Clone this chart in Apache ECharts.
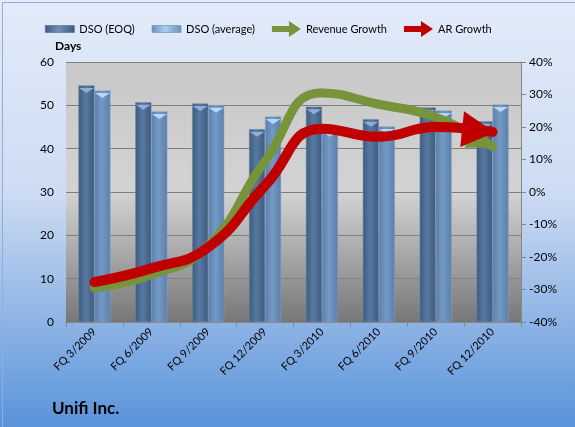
<!DOCTYPE html>
<html><head><meta charset="utf-8">
<script src="https://cdn.jsdelivr.net/npm/echarts@6/dist/echarts.min.js"></script>
<style>html,body{margin:0;padding:0;}#c{width:575px;height:427px;}</style>
</head><body><div id="c"></div>
<script>
var categories = ['FQ 3/2009','FQ 6/2009','FQ 9/2009','FQ 12/2009','FQ 3/2010','FQ 6/2010','FQ 9/2010','FQ 12/2010'];
var dsoEOQ = [54.6, 50.7, 50.4, 44.5, 49.7, 46.8, 49.5, 46.3];
var dsoAvg = [53.4, 48.6, 50.0, 47.4, 44.5, 45.1, 48.8, 50.2];
var revenueGrowth = [-29.5, -25.5, -16.5, 9.5, 30.5, 27.0, 23.0, 14.0];
var arGrowth = [-27.7, -23.5, -17.0, 2.0, 19.5, 17.0, 20.0, 18.5];
var leftTicks = {min: 0, max: 60, interval: 10};
var rightTicks = {min: -40, max: 40, interval: 10};

var FONT = 'Lato';
function hgrad(edge, mid){
  return new echarts.graphic.LinearGradient(0,0,1,0,[
    {offset:0,color:edge},{offset:0.45,color:mid},{offset:1,color:edge}]);
}
var arrowPath = 'path://M0,5 L17,5 L17,0 L29,8 L17,16 L17,11 L0,11 Z';
var rectIcon = 'path://M0,0 L29,0 L29,7 L0,7 Z';
var headPath = 'path://M0,0 L20,10 L0,20 Z';

function lineData(vals, rot, size, off){
  return vals.map(function(v,i){
    if(i===vals.length-1){
      return {value:v, symbol:headPath, symbolSize:size, symbolRotate:rot, symbolOffset:off};
    }
    return {value:v, symbol:'none'};
  });
}

var capPath = 'path://M0,0 L10,0 L5,4 Z';
var chart = echarts.init(document.getElementById('c'));
chart.setOption({
  backgroundColor: new echarts.graphic.LinearGradient(0,0,0,1,[
    {offset:0,color:'#e2ebf9'},{offset:0.45,color:'#cddcf3'},{offset:1,color:'#5a93da'}]),
  textStyle:{fontFamily:FONT},
  legend:{
    top:16, left:40, itemGap:17, itemWidth:29, itemHeight:16,
    textStyle:{fontFamily:FONT,fontSize:11,color:'#000'},
    data:[
      {name:'DSO (EOQ)', icon:rectIcon, itemStyle:{color:hgrad('#3e5a7f','#6f8fb8'), borderColor:'#4d6a90', borderWidth:0.6}},
      {name:'DSO (average)', icon:rectIcon, itemStyle:{color:hgrad('#6b90bd','#a9cdf0'), borderColor:'#6a8cb6', borderWidth:0.6}},
      {name:'Revenue Growth', icon:arrowPath, itemStyle:{color:'#77933c'}},
      {name:'AR Growth', icon:arrowPath, itemStyle:{color:'#c00000'}}
    ]
  },
  graphic:[
    {type:'rect', left:0, top:0, shape:{width:574, height:426}, style:{fill:'none', stroke:'#8eaedb', lineWidth:1}},
    {type:'text', left:55, top:40, style:{text:'Days', fontFamily:FONT, fontWeight:'bold', fontSize:12, fill:'#000'}},
    {type:'text', left:52, top:400, style:{text:'Unifi Inc.', fontFamily:FONT, fontWeight:'bold', fontSize:17, fill:'#000'}}
  ],
  grid:{left:66, right:54, top:62, bottom:105, show:true, borderWidth:0,
    backgroundColor:new echarts.graphic.LinearGradient(0,0,0,1,[
      {offset:0,color:'#c8c8c8'},{offset:0.5,color:'#d3d3d3'},{offset:0.75,color:'#a6a6a6'},{offset:1,color:'#777777'}])},
  xAxis:{type:'category', data:categories,
    axisLine:{lineStyle:{color:'#868686'}},
    axisTick:{show:true, alignWithLabel:false, length:5, lineStyle:{color:'#868686'}},
    axisLabel:{rotate:45, fontFamily:FONT, fontSize:11, color:'#000', margin:8, interval:0}
  },
  yAxis:[
    {type:'value', min:leftTicks.min, max:leftTicks.max, interval:leftTicks.interval,
     axisLine:{show:false}, axisTick:{show:false},
     axisLabel:{fontFamily:FONT, fontSize:12, color:'#000', margin:12},
     splitLine:{lineStyle:{color:'#7f7f7f', width:1}}},
    {type:'value', min:rightTicks.min, max:rightTicks.max, interval:rightTicks.interval,
     axisLine:{show:true, lineStyle:{color:'#868686'}},
     axisTick:{show:true, length:5, lineStyle:{color:'#868686'}},
     axisLabel:{fontFamily:FONT, fontSize:12, color:'#000', margin:8,
       formatter:function(v){return v+'%';}},
     splitLine:{show:false}}
  ],
  series:[
    {name:'DSO (EOQ)', type:'bar', data:dsoEOQ, barWidth:16, barGap:'0%',
     itemStyle:{color:hgrad('#3e5a7f','#58799f'), borderColor:'#6c86a8', borderWidth:0.5}},
    {name:'DSO (average)', type:'bar', data:dsoAvg, barWidth:16, barGap:'0%',
     itemStyle:{color:hgrad('#5b7fab','#7599c5'), borderColor:'#86a2c6', borderWidth:0.5}},
    {name:'capEOQ', type:'pictorialBar', data:dsoEOQ, barWidth:16, barGap:'0%', symbol:capPath,
     symbolSize:[15,5], symbolPosition:'end', symbolOffset:[0,'50%'], symbolRepeat:false,
     itemStyle:{color:'#8fb0d6'}, z:3, silent:true, legendHoverLink:false},
    {name:'capAvg', type:'pictorialBar', data:dsoAvg, barWidth:16, barGap:'0%', symbol:capPath,
     symbolSize:[15,5], symbolPosition:'end', symbolOffset:[0,'50%'], symbolRepeat:false,
     itemStyle:{color:'#b5d6f4'}, z:3, silent:true, legendHoverLink:false},
    {name:'Revenue Growth', type:'line', yAxisIndex:1, smooth:0.5, data:lineData(revenueGrowth,-28,[26,28],[-10,-5]),
     lineStyle:{color:'#77933c', width:9, cap:'round'}, itemStyle:{color:'#77933c'}, z:5},
    {name:'AR Growth', type:'line', yAxisIndex:1, smooth:0.5, data:lineData(arGrowth,-6,[33,36],[-14,-1]),
     lineStyle:{color:'#c00000', width:10, cap:'round'}, itemStyle:{color:'#c00000'}, z:6}
  ]
});
</script></body></html>
